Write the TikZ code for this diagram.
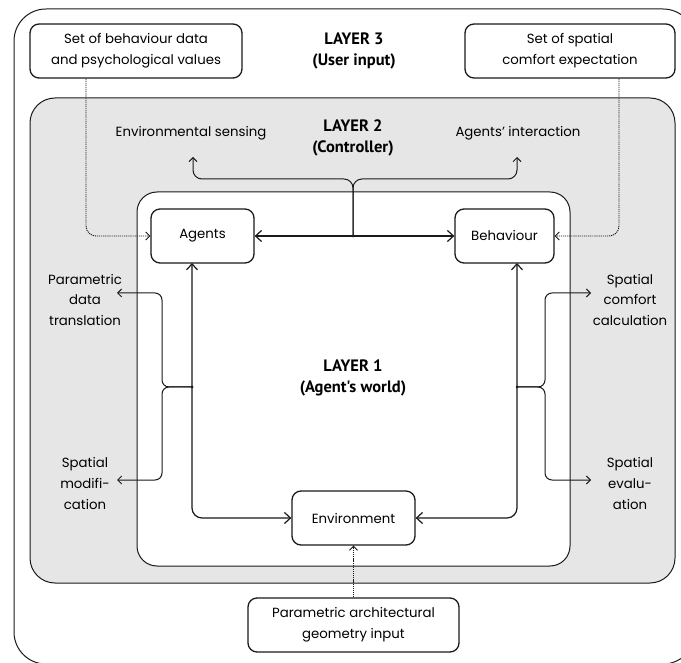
\documentclass[tikz,border=0pt]{standalone}
\usepackage{fontspec}
\setmainfont{Poppins}
\newfontfamily\layerfamily{PT Sans}
\usetikzlibrary{arrows.meta}
\definecolor{layergray}{HTML}{E6E6E6}
\definecolor{ink}{HTML}{1A1A1A}
\newcommand{\dgbody}{\fontsize{13.3}{21}\selectfont}
\newcommand{\dglayer}{\layerfamily\bfseries\fontsize{16.5}{21.5}\selectfont}
\begin{document}
\begin{tikzpicture}[x=1pt,y=-1pt,
  layerrect/.style={draw=ink, line width=1pt},
  box/.style={draw=ink, line width=1.3pt, rounded corners=9pt, fill=white, align=center, font=\dgbody, inner sep=2pt},
  lbl/.style={align=center, font=\dgbody, inner sep=1pt},
  layerlbl/.style={align=center, font=\dglayer, inner sep=1pt},
  conn/.style={draw=ink, line width=1.2pt},
  thin/.style={draw=ink, line width=1pt},
  bigtip/.style={arrows={Straight Barb[length=6pt,width=11pt]-Straight Barb[length=6pt,width=11pt]}},
  smalltip/.style={-{Straight Barb[length=4pt,width=8pt]}},
  dotconn/.style={draw=ink, line width=0.9pt, dash pattern=on 1.2pt off 0.9pt},
  jdot/.style={circle, fill=ink, inner sep=0pt, minimum size=3pt}
]
\useasboundingbox (0,0) rectangle (681,663);

% layers
\draw[layerrect, rounded corners=32pt] (14,9) rectangle (695,664);
\draw[layerrect, fill=layergray, rounded corners=25pt] (30,98) rectangle (675,583);
\draw[layerrect, fill=white, rounded corners=20pt] (137,192) rectangle (570,566);

% layer labels
\node[layerlbl] (l3) at (354,51) {LAYER 3\\(User input)};
\node[layerlbl] (l2) at (353,138) {LAYER 2\\(Controller)};
\node[layerlbl] (l1) at (353,378) {LAYER 1\\(Agent's world)};

% boxes
\node[box, minimum width=103pt, minimum height=54pt] (agents) at (202.5,236) {Agents};
\node[box, minimum width=99pt, minimum height=54pt] (beh) at (504.5,236) {Behaviour};
\node[box, minimum width=123pt, minimum height=54pt] (env) at (353.5,518) {Environment};
\node[box, minimum width=211pt, minimum height=54pt] (param) at (353.5,625) {Parametric architectural\\geometry input};
\node[box, minimum width=212pt, minimum height=54pt] (bdata) at (136,51) {Set of behaviour data\\and psychological values};
\node[box, minimum width=210pt, minimum height=54pt] (scomf) at (570,51) {Set of spatial\\comfort expectation};

% labels
\node[lbl] (es) at (191,133) {Environmental sensing};
\node[lbl] (ai) at (518,133) {Agents’ interaction};
\node[lbl] (pdt) at (85,300) {Parametric\\data\\translation};
\node[lbl] (sm) at (85,483) {Spatial\\modifi-\\cation};
\node[lbl] (sc) at (630,300) {Spatial\\comfort\\calculation};
\node[lbl] (se) at (630,483) {Spatial\\evalu-\\ation};

% coordinates
\coordinate (mtop) at (353,236);
\coordinate (esK) at (193,179);
\coordinate (esT) at (193,157);
\coordinate (aiK) at (517,179);
\coordinate (aiT) at (517,157);
\coordinate (agB) at (192,263);
\coordinate (beB) at (517,263);
\coordinate (jl) at (192,387);
\coordinate (jr) at (517,387);
\coordinate (pdtK) at (162,293);
\coordinate (pdtT) at (117,293);
\coordinate (smK) at (162,480);
\coordinate (smT) at (117,480);
\coordinate (scK) at (545,293);
\coordinate (scT) at (591,293);
\coordinate (seK) at (545,480);
\coordinate (seT) at (591,480);

% main connectors
\draw[conn, bigtip] (agents.east) -- (beh.west);
\draw[conn, bigtip, rounded corners=10pt] (agB) |- (env.west);
\draw[conn, bigtip, rounded corners=10pt] (beB) |- (env.east);

% top brace
\draw[thin, smalltip, rounded corners=9pt] (mtop) |- (esK) -- (esT);
\draw[thin, smalltip, rounded corners=9pt] (mtop) |- (aiK) -- (aiT);

% side braces
\draw[thin, smalltip, rounded corners=7pt] (jl) -| (pdtK) -- (pdtT);
\draw[thin, smalltip, rounded corners=7pt] (jl) -| (smK) -- (smT);
\draw[thin, smalltip, rounded corners=7pt] (jr) -| (scK) -- (scT);
\draw[thin, smalltip, rounded corners=7pt] (jr) -| (seK) -- (seT);

\node[jdot] at (mtop) {};
\node[jdot] at (jl) {};
\node[jdot] at (jr) {};

% dotted inputs
\draw[dotconn, smalltip, rounded corners=10pt] ([xshift=-50pt]bdata.south) |- (agents.west);
\draw[dotconn, smalltip, rounded corners=10pt] ([xshift=49pt]scomf.south) |- (beh.east);
\draw[dotconn, smalltip] (param.north) -- (env.south);
\end{tikzpicture}
\end{document}
